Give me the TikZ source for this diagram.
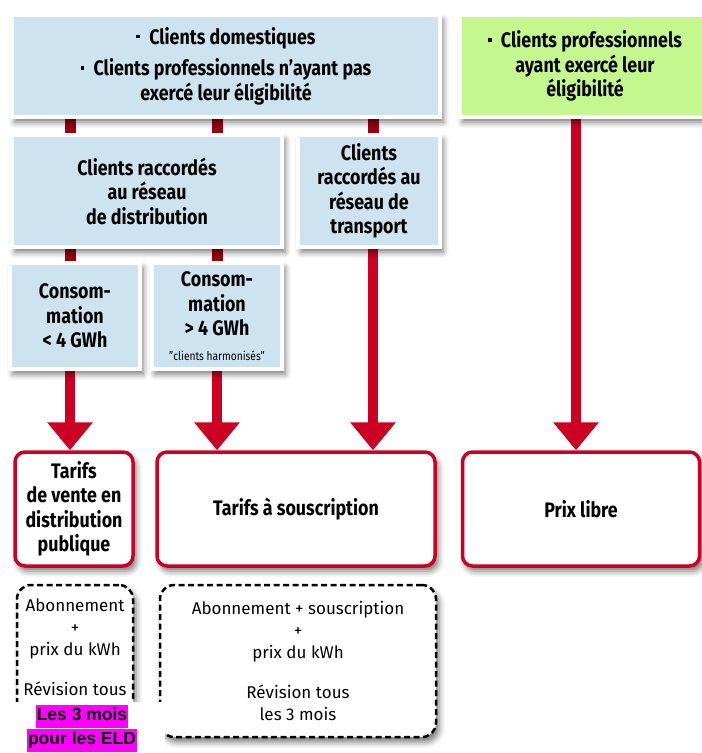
\documentclass[tikz,border=0pt]{standalone}
\usepackage{fontspec}
\setmainfont{Fira Sans}[FakeStretch=0.85]
\newfontfamily\detailfont{Fira Sans}
\newfontfamily\eldfont{Liberation Sans}
\usepackage{xcolor}
\usepackage{tikz}
\usetikzlibrary{arrows.meta,positioning,shadows.blur,backgrounds}
\definecolor{clientblue}{HTML}{CDE4F0}
\definecolor{eligreen}{HTML}{C4F78E}
\definecolor{tarifred}{HTML}{CC0022}
\definecolor{stubred}{HTML}{990010}
\definecolor{eldpink}{RGB}{255,0,255}
\newcommand{\puce}{\raisebox{0.28em}{\rule{3.5pt}{3.5pt}}\hspace{0.45em}}
\newcommand{\eldmark}[1]{{\setlength{\fboxsep}{1pt}\colorbox{eldpink}{\strut#1}}}

\begin{document}
\begin{tikzpicture}[x=1pt,y=-1pt,font=\fontsize{21}{24.5}\selectfont\bfseries,
  boxshadow/.style={blur shadow={shadow xshift=3pt,shadow yshift=-5pt,shadow blur radius=6pt,shadow opacity=55}},
  client/.style={fill=clientblue,draw=white,line width=3.5pt,align=center,inner sep=0pt,boxshadow},
  eligible/.style={client,fill=eligreen},
  tarif/.style={draw=tarifred,fill=white,line width=3.5pt,rounded corners=10pt,align=center,inner sep=0pt,boxshadow},
  detail/.style={draw=black,fill=white,dash pattern=on 6pt off 3.5pt,line width=2.5pt,rounded corners=14pt,
    align=center,inner sep=0pt,font=\detailfont\fontsize{17}{22}\selectfont,boxshadow},
  eldmask/.style={fill=white,inner sep=0pt,align=center,minimum width=166pt,minimum height=52pt,
    font=\eldfont\bfseries\fontsize{17.5}{21}\selectfont},
  stub/.style={draw=stubred,line width=11pt},
  flow/.style={draw=tarifred,line width=10pt,-{Triangle[width=44pt,length=28pt]}}]
  \useasboundingbox (0,0) rectangle (702,753);

  % columns of the connectors
  \coordinate (colA) at (70,0);
  \coordinate (colB) at (217,0);
  \coordinate (colC) at (373,0);
  \coordinate (colD) at (576,0);

  % clients
  \node[client,minimum width=428pt,minimum height=102pt] (tousClients) at (226,66)
    {\puce Clients domestiques\\[7pt]\puce Clients professionnels n'ayant pas\\exercé leur éligibilité};
  \node[eligible,minimum width=250pt,minimum height=102pt] (proElig) at (585,66)
    {\puce Clients professionnels\\ayant exercé leur\\éligibilité};
  \node[client,minimum width=270pt,minimum height=112pt] (distrib) at (147,191)
    {Clients raccordés\\au réseau\\de distribution};
  \node[client,minimum width=142pt,minimum height=112pt] (transport) at (369,191)
    {Clients\\raccordés au\\réseau de\\transport};
  \node[client,minimum width=130pt,minimum height=106pt] (petitConso) at (75,316)
    {Consom-\\mation\\< 4 GWh};
  \node[client,minimum width=130pt,minimum height=106pt] (grandConso) at (217,316)
    {Consom-\\mation\\> 4 GWh\\{\fontsize{12}{14}\selectfont\mdseries "clients harmonisés"}};

  % tarifs
  \node[tarif,minimum width=118pt,minimum height=114pt] (tarifDist) at (74,509)
    {Tarifs\\de vente en\\distribution\\publique};
  \node[tarif,minimum width=278pt,minimum height=114pt] (tarifSous) at (296,509) {Tarifs à souscription};
  \node[tarif,minimum width=237pt,minimum height=114pt] (prixLibre) at (581,509) {Prix libre};

  % details
  \node[detail,minimum width=116pt,minimum height=152pt] (detailDist) at (75,661)
    {Abonnement\\+\\prix du kWh\\[18pt]Révision tous\\\strut};
  \node[detail,minimum width=276pt,minimum height=152pt] (detailSous) at (298,661)
    {Abonnement + souscription\\+\\prix du kWh\\[18pt]Révision tous\\les 3 mois};
  \node[eldmask] (eldNote) at (82,728) {\eldmark{Les 3 mois}\\\eldmark{pour les ELD}};

  \begin{scope}[on background layer]
    \draw[stub] (tousClients.south -| colA) -- (distrib.north -| colA);
    \draw[stub] (tousClients.south -| colB) -- (distrib.north -| colB);
    \draw[stub] (tousClients.south -| colC) -- (transport.north -| colC);
    \draw[stub] (distrib.south -| colA) -- (petitConso.north -| colA);
    \draw[stub] (distrib.south -| colB) -- (grandConso.north -| colB);
    \draw[flow] (petitConso.south -| colA) -- (tarifDist.north -| colA);
    \draw[flow] (grandConso.south -| colB) -- (tarifSous.north -| colB);
    \draw[flow] (transport.south -| colC) -- (tarifSous.north -| colC);
    \draw[flow] (proElig.south -| colD) -- (prixLibre.north -| colD);
  \end{scope}
\end{tikzpicture}
\end{document}
